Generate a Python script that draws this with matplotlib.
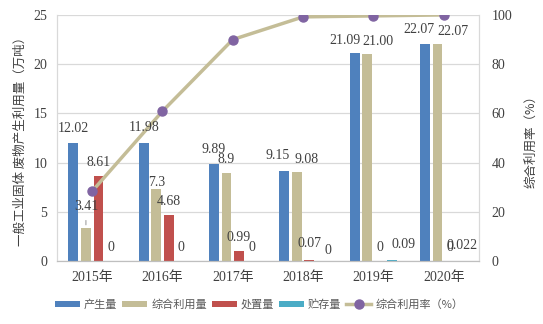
import matplotlib
matplotlib.use("Agg")
import matplotlib.pyplot as plt
import numpy as np

years = ["2015年", "2016年", "2017年", "2018年", "2019年", "2020年"]
produced = [12.02, 11.98, 9.89, 9.15, 21.09, 22.07]
utilized = [3.41, 7.3, 8.9, 9.08, 21.00, 22.07]
disposed = [8.61, 4.68, 0.99, 0.07, 0, 0]
stored = [0, 0, 0, 0, 0.09, 0.022]
util_rate = [28.4, 60.9, 90.0, 99.2, 99.6, 100.0]

produced_txt = ["12.02", "11.98", "9.89", "9.15", "21.09", "22.07"]
utilized_txt = ["3.41", "7.3", "8.9", "9.08", "21.00", "22.07"]
disposed_txt = ["8.61", "4.68", "0.99", "0.07", "0", "0"]
stored_txt = ["0", "0", "0", "0", "0.09", "0.022"]

names = ["产生量", "综合利用量", "处置量", "贮存量"]
colors = ["#4F81BD", "#C4BD97", "#C0504D", "#4BACC6"]

# label nudges in points (dx, dy above bar top)
nudges = [
    [(0, 10), (0, 11), (0, 10), (-5, 11), (-7, 9), (-4, 10)],
    [(0, 15), (0, 5), (0, 10), (7, 9), (8, 9), (11, 9)],
    [(0, 10), (0, 10), (0, 10), (0, 12), (0, 10), (0, 10)],
    [(0, 10), (0, 10), (0, 10), (4, 8), (8, 11), (0, 11)],
]

num_font = ["Liberation Serif", "Noto Sans CJK SC"]
cjk_font = ["Noto Sans CJK SC", "DejaVu Sans"]
txt_color = "#404040"

fig = plt.figure(figsize=(5.43, 3.24), dpi=100)
ax = fig.add_axes([0.105, 0.194, 0.777, 0.760])
ax2 = ax.twinx()

x = np.arange(len(years))
w = 0.14
step = 0.178
series = [produced, utilized, disposed, stored]
labels = [produced_txt, utilized_txt, disposed_txt, stored_txt]
for i, (vals, txts) in enumerate(zip(series, labels)):
    pos = x + (i - 1.5) * step
    ax.bar(pos, vals, width=w, color=colors[i], label=names[i], zorder=2)
    for j, (p, v, t) in enumerate(zip(pos, vals, txts)):
        dx, dy = nudges[i][j]
        # drawn on the twin axes so the labels sit above the rate line
        ax2.annotate(t, (p, v), xycoords=ax.transData, xytext=(dx, dy),
                     textcoords="offset points", ha="center", va="center",
                     fontsize=10, family=num_font, color=txt_color, zorder=5)

# leader line for the 2015 utilized label
ax.annotate("", (x[0] - 0.5 * step, utilized[0]),
            xytext=(x[0] - 0.5 * step, utilized[0] + 1.0),
            arrowprops=dict(arrowstyle="-", color="#A0A0A0", lw=0.8))

ax2.plot(x, util_rate, color="#C4BD97", lw=2.5, marker="o", markersize=6.5,
         markerfacecolor="#8064A2", markeredgecolor="#8064A2",
         label="综合利用率（%）", zorder=3)

ax.set_xlim(-0.5, len(years) - 0.5)
ax.set_ylim(0, 25)
ax2.set_ylim(0, 100)
ax.set_yticks(np.arange(0, 26, 5))
ax2.set_yticks(np.arange(0, 101, 20))
ax.set_xticks(x)
ax.set_xticklabels(years)

ax.grid(axis="y", color="#D9D9D9", lw=0.9, zorder=0)
ax.set_axisbelow(True)
for a in (ax, ax2):
    a.tick_params(length=0, labelsize=10, colors=txt_color)
    for lab in a.get_xticklabels() + a.get_yticklabels():
        lab.set_family(num_font)
    a.spines["top"].set_visible(False)
    a.spines["left"].set_color("#D9D9D9")
    a.spines["right"].set_color("#D9D9D9")
    a.spines["bottom"].set_color("#BFBFBF")
ax.tick_params(axis="x", pad=7)
ax.tick_params(axis="y", pad=7)
ax2.tick_params(axis="y", pad=9)

ax.set_ylabel("一般工业固体 废物产生利用量（万吨）", family=cjk_font,
              fontsize=9, color=txt_color, labelpad=5)
ax2.set_ylabel("综合利用率（%）", family=cjk_font, fontsize=9,
               color=txt_color, labelpad=9)

h1, l1 = ax.get_legend_handles_labels()
h2, l2 = ax2.get_legend_handles_labels()
fig.legend(h1 + h2, l1 + l2, loc="center", bbox_to_anchor=(0.477, 0.06),
           ncol=5, frameon=False, prop={"family": cjk_font, "size": 8},
           labelcolor="#595959", handlelength=2.25, handleheight=0.55,
           handletextpad=0.35, columnspacing=0.45)

fig.savefig("out.png", dpi=100)
